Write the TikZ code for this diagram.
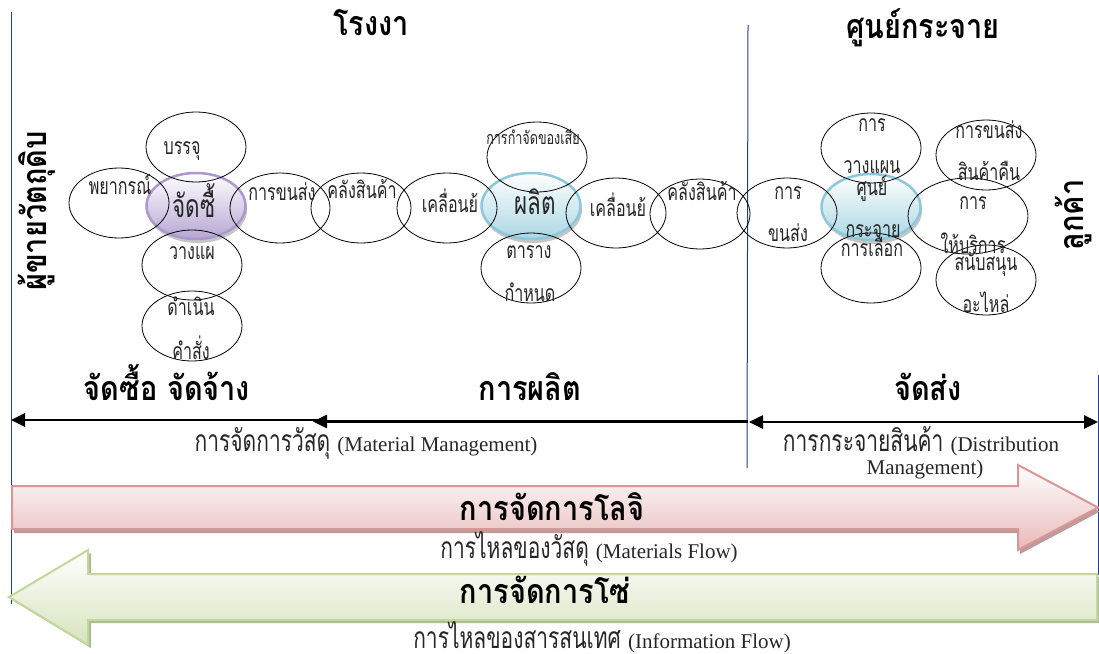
\documentclass[tikz,border=0pt]{standalone}
\usepackage{fontspec}
\usetikzlibrary{shapes.geometric,arrows.meta,shadows}
\newfontfamily\thr[Script=Thai,FakeStretch=0.7]{Loma}
\newfontfamily\thb[Script=Thai,FakeStretch=0.85]{Loma}
\newfontfamily\enr{Liberation Serif}
\definecolor{vline}{RGB}{40,60,130}
\definecolor{purB}{RGB}{172,152,204}
\definecolor{purF}{RGB}{182,166,212}
\definecolor{bluB}{RGB}{140,200,218}
\definecolor{bluF}{RGB}{170,215,228}
\definecolor{redB}{RGB}{217,150,148}
\definecolor{redF}{RGB}{232,185,185}
\definecolor{redS}{RGB}{190,155,155}
\definecolor{grnB}{RGB}{195,214,155}
\definecolor{grnF}{RGB}{214,227,188}
\definecolor{grnS}{RGB}{172,186,150}
\begin{document}
\begin{tikzpicture}[x=1pt,y=-1pt,
  ell/.style={ellipse,draw=black,line width=0.8pt,minimum width=100pt,minimum height=70pt,inner sep=0pt},
  core/.style={ellipse,line width=2.5pt,minimum width=99pt,minimum height=66pt,inner sep=0pt,
    drop shadow={shadow xshift=1.5pt,shadow yshift=-4pt,fill=black!45,opacity=0.5}},
  pcore/.style={core,draw=purB,top color=white,bottom color=purF},
  bcore/.style={core,draw=bluB,top color=white,bottom color=bluF},
  et/.style={inner sep=0pt,anchor=base,text=black!85,font=\thr\fontsize{23}{25}\selectfont},
  big/.style={et,font=\thr\fontsize{32}{34}\selectfont},
  small/.style={et,font=\thr\fontsize{18}{20}\selectfont},
  hd/.style={inner sep=0pt,anchor=base,font=\thb\bfseries\fontsize{34}{36}\selectfont},
  vt/.style={inner sep=0pt,anchor=center,rotate=90,font=\thb\bfseries\fontsize{34}{36}\selectfont},
  low/.style={inner sep=0pt,anchor=base,text=black!85,font=\thr\fontsize{30}{32}\selectfont},
  eng/.style={font=\enr\fontsize{21}{24}\selectfont},
  secarrow/.style={line width=2.6pt,-{Triangle[length=14pt,width=13pt]}},
  vrule/.style={draw=vline,line width=1pt}
]
\useasboundingbox (0,0) rectangle (1099,653);

% section dividers
\coordinate (v1t) at (11,12);   \coordinate (v1b) at (11,604);
\coordinate (v2t) at (748,25);  \coordinate (v2b) at (747,468);
\coordinate (v3t) at (1098,375);\coordinate (v3b) at (1098,575);
\draw[vrule] (v1t) -- (v1b);
\draw[vrule] (v2t) -- (v2b);
\draw[vrule] (v3t) -- (v3b);

% logistics arrow (materials flow)
\fill[redS,shift={(2,4)}] (12,486) -- (1018,486) -- (1018,465) -- (1098,507.5) -- (1018,550) -- (1018,529) -- (12,529) -- cycle;
\draw[redB,line width=2pt,top color=white,bottom color=redF]
  (12,486) -- (1018,486) -- (1018,465) -- (1098,507.5) -- (1018,550) -- (1018,529) -- (12,529) -- cycle;

% supply chain arrow (information flow)
\fill[grnS,shift={(3,3)}] (1097,574) -- (88,574) -- (88,550) -- (9,597) -- (88,645) -- (88,620) -- (1097,620) -- cycle;
\draw[grnB,line width=2pt,top color=white,bottom color=grnF]
  (1097,574) -- (88,574) -- (88,550) -- (9,597) -- (88,645) -- (88,620) -- (1097,620) -- cycle;

% coloured core ellipses
\node[pcore] (cBuy) at (196,206) {};
\node[bcore] (cMake) at (531,206) {};
\node[bcore] (cDist) at (871,207) {};

% activity ellipses
\node[ell] (eBun) at (196,147) {};
\node[ell] (ePya) at (119,203) {};
\node[ell] (eKhon1) at (280,208) {};
\node[ell] (eWang) at (192,265) {};
\node[ell] (eDam) at (192,326) {};
\node[ell] (eKlang1) at (361,208) {};
\node[ell] (eMove1) at (447,208) {};
\node[ell] (eWaste) at (537,157) {};
\node[ell] (eTable) at (531,268) {};
\node[ell] (eMove2) at (616,213) {};
\node[ell] (eKlang2) at (700,214) {};
\node[ell] (eKhon2) at (787,213) {};
\node[ell] (ePlan) at (871,148) {};
\node[ell] (eSel) at (871,268) {};
\node[ell,minimum width=120pt,minimum height=76pt] (eServ) at (968,216) {};
\node[ell] (eRet) at (986,155) {};
\node[ell] (eSpare) at (986,280) {};

% ellipse labels
\node[et] (tBun) at (182,154) {บรรจุ};
\node[et] (tPya) at (120,194) {พยากรณ์};
\node[big] (tBuy) at (194,217) {จัดซื้};
\node[et] (tKhon1) at (282,200) {การขนส่ง};
\node[et] (tKlang1) at (362,198) {คลังสินค้า};
\node[et] (tWang) at (192,259) {วางแผ};
\node[et] (tDam1) at (191,315) {ดำเนิน};
\node[et] (tDam2) at (191,359) {คำสั่ง};
\node[et] (tMove1) at (450,212) {เคลื่อนย้};
\node[big] (tMake) at (535,214) {ผลิต};
\node[small] (tWaste) at (533,144) {การกำจัดของเสีย};
\node[et] (tTab1) at (529,258) {ตาราง};
\node[et] (tTab2) at (530,301) {กำหนด};
\node[et] (tMove2) at (618,216) {เคลื่อนย้};
\node[et] (tKlang2) at (702,200) {คลังสินค้า};
\node[et] (tKhon2a) at (788,199) {การ};
\node[et] (tKhon2b) at (788,241) {ขนส่ง};
\node[et] (tPlan1) at (872,131) {การ};
\node[et] (tPlan2) at (872,173) {วางแผน};
\node[et] (tDist1) at (872,195) {ศูนย์};
\node[et] (tDist2) at (873,237) {กระจาย};
\node[et] (tSel) at (872,256) {การเลือก};
\node[et] (tRet1) at (989,138) {การขนส่ง};
\node[et] (tRet2) at (989,180) {สินค้าคืน};
\node[et] (tServ1) at (973,209) {การ};
\node[et] (tServ2) at (973,253) {ให้บริการ};
\node[et] (tSpare1) at (986,270) {สนับสนุน};
\node[et] (tSpare2) at (986,312) {อะไหล่};

% headings
\node[hd] (hFac) at (371,35) {โรงงา};
\node[hd] (hDC) at (923,38) {ศูนย์กระจาย};
\node[vt] (hSup) at (37,211) {ผู้ขายวัตถุดิบ};
\node[vt] (hCus) at (1073,215) {ลูกค้า};
\node[hd] (sBuy) at (167,400) {จัดซื้อ จัดจ้าง};
\node[hd] (sMake) at (530,400) {การผลิต};
\node[hd] (sShip) at (928,400) {จัดส่ง};

% scope arrows
\coordinate (a1s) at (318,420);   \coordinate (a1e) at (11,420);
\coordinate (a2s) at (748,421.5); \coordinate (a2e) at (313,421.5);
\coordinate (a3s) at (749,422);   \coordinate (a3e) at (1098,422);
\draw[secarrow] (a1s) -- (a1e);
\draw[secarrow] (a2s) -- (a2e);
\draw[secarrow,{Triangle[length=14pt,width=13pt]}-{Triangle[length=14pt,width=13pt]}] (a3s) -- (a3e);

\node[low] (lMat) at (366,451) {การจัดการวัสดุ {\enr\fontsize{21}{24}\selectfont (Material Management)}};
\node[low] (lDis1) at (921,451) {การกระจายสินค้า {\enr\fontsize{21}{24}\selectfont (Distribution}};
\node[low,eng] (lDis2) at (925,474) {Management)};

% flow labels
\node[hd] (fLog) at (552,520) {การจัดการโลจิ};
\node[low] (fMat) at (589,558) {การไหลของวัสดุ {\enr\fontsize{21}{24}\selectfont (Materials Flow)}};
\node[hd] (fSC) at (545,603) {การจัดการโซ่};
\node[low] (fInf) at (602,648) {การไหลของสารสนเทศ {\enr\fontsize{21}{24}\selectfont (Information Flow)}};
\end{tikzpicture}
\end{document}
